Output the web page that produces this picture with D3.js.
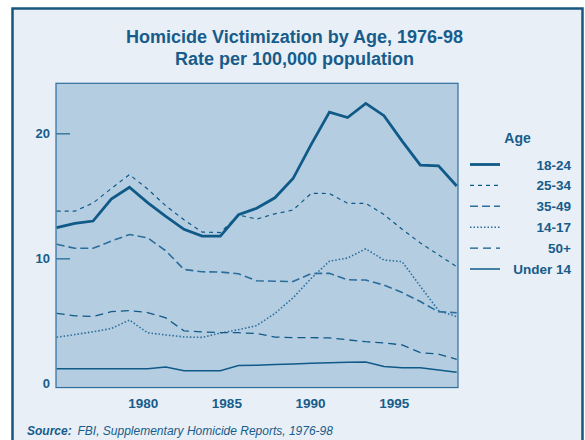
<!DOCTYPE html>
<html><head><meta charset="utf-8">
<script src="https://cdn.jsdelivr.net/npm/d3@7"></script>
<style>
html,body{margin:0;padding:0;background:#fff;}
svg{display:block;font-family:"Liberation Sans",Arial,sans-serif;}
</style></head>
<body>
<svg id="c" width="585" height="440"></svg>
<script>
const years = d3.range(1976, 1999);
const age18_24 = [12.45,12.79,12.98,14.74,15.68,14.45,13.36,12.32,11.78,11.78,13.48,14.0,14.84,16.38,19.12,21.7,21.26,22.39,21.41,19.38,17.46,17.4,15.78];
const age25_34 = [13.78,13.77,14.42,15.58,16.7,15.54,14.2,13.08,12.1,12.06,13.46,13.14,13.56,13.86,15.2,15.18,14.4,14.4,13.5,12.32,11.23,10.28,9.33];
const age35_49 = [11.12,10.8,10.8,11.38,11.9,11.64,10.6,9.11,8.92,8.9,8.76,8.2,8.17,8.14,8.78,8.8,8.28,8.26,7.86,7.26,6.54,5.72,5.65];
const age14_17 = [3.68,3.9,4.12,4.38,5.06,4.04,3.87,3.71,3.67,4.02,4.29,4.62,5.59,6.84,8.4,9.77,10.02,10.76,9.86,9.73,7.76,5.82,5.33];
const age50p   = [5.6,5.4,5.34,5.73,5.81,5.66,5.23,4.2,4.11,4.05,4.05,3.98,3.7,3.65,3.65,3.63,3.48,3.33,3.23,3.07,2.45,2.34,1.92];
const under14  = [1.17,1.17,1.17,1.17,1.17,1.17,1.31,1.01,1.01,1.01,1.43,1.45,1.5,1.55,1.6,1.64,1.69,1.71,1.34,1.25,1.25,1.06,0.88];
const seriesNames = ["18-24","25-34","35-49","14-17","50+","Under 14"];
const yTicks = [0, 10, 20];
const xTickLabels = [1980, 1985, 1990, 1995];

const title1 = "Homicide Victimization by Age, 1976-98";
const title2 = "Rate per 100,000 population";

(function () {
const dark = "#0f5a88";
const textC = "#175c8a";
const styles = {
  "18-24":   {w: 2.8, dash: null, c: dark},
  "25-34":   {w: 1.2, dash: "4,4", c: dark},
  "35-49":   {w: 1.6, dash: "8,4", c: "#2a6e9c"},
  "14-17":   {w: 1.6, dash: "1.5,2", c: "#2a6e9c"},
  "50+":     {w: 1.3, dash: "8,5", c: dark},
  "Under 14":{w: 1.5, dash: null, c: dark}
};
const seriesData = [age18_24, age25_34, age35_49, age14_17, age50p, under14];

const svg = d3.select("#c");
// outer frame
svg.append("rect").attr("x", 12.5).attr("y", 8.5).attr("width", 570).attr("height", 440)
  .attr("fill", "#e8eff6").attr("stroke", "#17577f").attr("stroke-width", 2.5);

const x = d3.scaleLinear().domain([1976, 1998]).range([56.7, 456.7]);
const y = d3.scaleLinear().domain([0, 24]).range([383.3, 83.3]);
const xLab = d3.scaleLinear().domain([1980, 1995]).range([142.7, 393.7]);
const pL = 56, pR = 458, pT = y(24), pB = y(-0.34);

svg.append("rect").attr("x", pL).attr("y", pT).attr("width", pR - pL).attr("height", pB - pT)
  .attr("fill", "#b5cde0").attr("stroke", "#2e6f9b").attr("stroke-width", 1.2);

// y ticks (inside) and labels
const yAxis = d3.axisRight(y).tickValues(yTicks).tickSize(14).tickFormat("");
const ya = svg.append("g").attr("transform", `translate(${pL},0)`).call(yAxis);
ya.select(".domain").remove();
ya.selectAll(".tick line").attr("stroke", "#3a78a3").attr("stroke-width", 1.5)
  .filter(d => d === 0).remove();
const yl = svg.append("g").attr("transform", `translate(${pL},0)`)
  .call(d3.axisLeft(y).tickValues(yTicks).tickSize(0).tickPadding(6).tickFormat(d3.format("d")));
yl.select(".domain").remove();
yl.selectAll("text").attr("fill", textC).attr("font-size", "13px").attr("font-weight", "bold")
  .attr("font-family", "Liberation Sans, Arial, sans-serif");

// x labels
const xa = svg.append("g").attr("transform", `translate(0,${pB})`)
  .call(d3.axisBottom(xLab).tickValues(xTickLabels).tickSize(0).tickFormat(d3.format("d")));
xa.select(".domain").remove();
xa.selectAll("text").attr("fill", textC).attr("font-size", "13.5px").attr("font-weight", "bold")
  .attr("font-family", "Liberation Sans, Arial, sans-serif").attr("y", 20.5).attr("dy", 0);

// lines
const line = d3.line().x((d, i) => x(years[i])).y(d => y(d));
seriesNames.forEach((n, k) => {
  const s = styles[n];
  svg.append("path").datum(seriesData[k]).attr("d", line)
    .attr("fill", "none").attr("stroke", s.c).attr("stroke-width", s.w)
    .attr("stroke-dasharray", s.dash).attr("stroke-linejoin", "miter");
});

// titles
svg.append("text").attr("x", 294.5).attr("y", 43).attr("text-anchor", "middle")
  .attr("fill", textC).attr("font-size", "18px").attr("font-weight", "bold").text(title1);
svg.append("text").attr("x", 294.5).attr("y", 65).attr("text-anchor", "middle")
  .attr("fill", textC).attr("font-size", "18px").attr("font-weight", "bold").text(title2);

// legend
svg.append("text").attr("x", 517.5).attr("y", 143).attr("text-anchor", "middle")
  .attr("fill", textC).attr("font-size", "14px").attr("font-weight", "bold").text("Age");
const legY = d3.scaleLinear().domain([0, 5]).range([164.5, 269]);
seriesNames.forEach((n, k) => {
  const s = styles[n];
  const yy = legY(k);
  svg.append("line").attr("x1", 470).attr("x2", 500).attr("y1", yy).attr("y2", yy)
    .attr("stroke", s.c).attr("stroke-width", s.w).attr("stroke-dasharray", s.dash);
  svg.append("text").attr("x", 571).attr("y", yy + 5).attr("text-anchor", "end")
    .attr("fill", textC).attr("font-size", "13.5px").attr("font-weight", "bold").text(n);
});

// source
svg.append("text").attr("x", 27).attr("y", 434.5).attr("fill", textC)
  .attr("font-size", "12px").attr("font-weight", "bold").attr("font-style", "italic").text("Source:");
svg.append("text").attr("x", 77.5).attr("y", 434.5).attr("fill", textC)
  .attr("font-size", "12px").attr("font-style", "italic").text("FBI, Supplementary Homicide Reports, 1976-98");
})();
</script>
</body></html>
